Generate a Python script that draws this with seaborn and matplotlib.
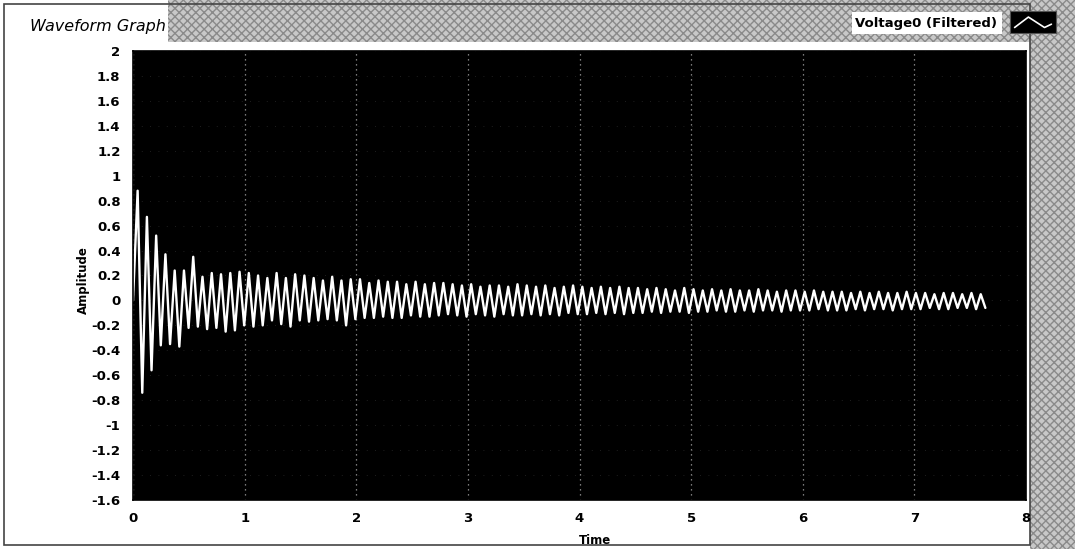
import numpy as np
import pandas as pd
import matplotlib
matplotlib.use("Agg")
import matplotlib.pyplot as plt
import matplotlib.patches as mpatches
import seaborn as sns

# ---- data (LabVIEW waveform: t0, dt, Y) ----
t0 = 0.0
dt = 0.0415  # time between successive extrema of the waveform (s)
start_value = [0.0]
peaks = [0.88, 0.67, 0.52, 0.37, 0.24, 0.24, 0.35, 0.19, 0.22, 0.21, 0.22, 0.23, 0.22, 0.20,
         0.18, 0.22, 0.18, 0.21, 0.20, 0.18, 0.16, 0.19, 0.16, 0.17, 0.17, 0.14, 0.16, 0.15,
         0.15, 0.13, 0.15, 0.13, 0.14, 0.14,
         0.13, 0.12, 0.13, 0.11, 0.12, 0.12, 0.11, 0.13, 0.12, 0.11, 0.12, 0.10, 0.11, 0.12,
         0.11, 0.10, 0.11, 0.10, 0.11, 0.10, 0.10,
         0.09, 0.10, 0.09, 0.08, 0.10, 0.09, 0.08, 0.09, 0.08, 0.09, 0.08, 0.08, 0.09, 0.08,
         0.07, 0.08, 0.08, 0.07, 0.08, 0.07, 0.07,
         0.07, 0.06, 0.07, 0.06, 0.07, 0.06, 0.06, 0.07, 0.06, 0.06, 0.05, 0.06, 0.06, 0.05,
         0.06, 0.05]
troughs = [-0.74, -0.56, -0.36, -0.35, -0.37, -0.22, -0.21, -0.23, -0.22, -0.25, -0.24, -0.20, -0.21,
           -0.20, -0.16, -0.19, -0.21, -0.16, -0.17, -0.16, -0.15, -0.16, -0.20, -0.15, -0.14,
           -0.14, -0.13, -0.14, -0.14, -0.12, -0.13, -0.13, -0.12, -0.11,
           -0.12, -0.13, -0.11, -0.12, -0.13, -0.11, -0.12, -0.12, -0.11, -0.12, -0.11, -0.12,
           -0.10, -0.11, -0.11, -0.10, -0.11, -0.10, -0.11, -0.10, -0.10,
           -0.09, -0.10, -0.09, -0.09, -0.10, -0.09, -0.09, -0.08, -0.09, -0.09, -0.08, -0.09,
           -0.08, -0.08, -0.09, -0.08, -0.08, -0.08, -0.07, -0.08, -0.08,
           -0.08, -0.07, -0.08, -0.07, -0.07, -0.08, -0.07, -0.07, -0.07, -0.06, -0.07, -0.07,
           -0.06, -0.06, -0.07, -0.06]
x_ticks = [0, 1, 2, 3, 4, 5, 6, 7, 8]
y_ticks = [2, 1.8, 1.6, 1.4, 1.2, 1, 0.8, 0.6, 0.4, 0.2, 0, -0.2, -0.4, -0.6, -0.8,
           -1, -1.2, -1.4, -1.6]
title_text = "Waveform Graph"
series_name = "Voltage0 (Filtered)"
x_label = "Time"
y_label = "Amplitude"

amplitude = start_value + [v for pair in zip(peaks, troughs) for v in pair]
time = [t0 + i * dt for i in range(len(amplitude))]
df = pd.DataFrame({"Time": time, "Amplitude": amplitude})

# ---- figure ----
sns.set_style("white")
plt.rcParams["font.family"] = ["DejaVu Sans"]
plt.rcParams["text.color"] = "black"
plt.rcParams["axes.labelcolor"] = "black"
plt.rcParams["xtick.color"] = "black"
plt.rcParams["ytick.color"] = "black"

W, H = 1075, 549
fig = plt.figure(figsize=(W / 100, H / 100), dpi=100, facecolor="white")

def fx(px):
    return px / W

def fy(py):
    return 1 - py / H

# decorative frame (gray dithered LabVIEW panel)
fig.patches.append(mpatches.Rectangle((fx(168), fy(42)), fx(1075 - 168), 42 / H,
                                      transform=fig.transFigure, facecolor="#c8c8c8",
                                      edgecolor="#8a8a8a", hatch="xxxx", lw=0, zorder=0))
fig.patches.append(mpatches.Rectangle((fx(1030), 0), fx(45), 1,
                                      transform=fig.transFigure, facecolor="#c8c8c8",
                                      edgecolor="#8a8a8a", hatch="xxxx", lw=0, zorder=0))
fig.patches.append(mpatches.Rectangle((fx(4), fy(545)), fx(1026), 541 / H,
                                      transform=fig.transFigure, facecolor="none",
                                      edgecolor="#444444", lw=1.2, zorder=1))

ax = fig.add_axes([fx(133), fy(500), fx(1026 - 133), (500 - 51) / H])
ax.set_facecolor("black")
ax.set_zorder(3)

sns.lineplot(data=df, x="Time", y="Amplitude", ax=ax, color="white", lw=1.7,
             estimator=None, sort=False, solid_joinstyle="round")

ax.set_xlim(0, 8)
ax.set_ylim(-1.6, 2)
ax.set_xticks(x_ticks)
ax.set_xticklabels([f"{v:g}" for v in x_ticks])
ax.set_yticks(y_ticks)
ax.set_yticklabels([f"{v:g}" for v in y_ticks])
ax.tick_params(axis="both", which="major", direction="out", length=7, width=1.6,
               color="black", labelcolor="black", labelsize=9.5, pad=2)
for lab in ax.get_xticklabels() + ax.get_yticklabels():
    lab.set_fontweight("bold")

ax.grid(True, axis="x", color="#cccccc", linestyle=(0, (1, 3)), lw=0.9, alpha=0.8)
ax.grid(True, axis="y", color="#777777", linestyle=(0, (1, 9)), lw=0.6, alpha=0.35)
for s in ax.spines.values():
    s.set_color("black")
    s.set_linewidth(1.2)

ax.set_xlabel(x_label, fontsize=8.5, fontweight="bold", labelpad=2, color="black")
ax.xaxis.set_label_coords((595 - 133) / (1026 - 133), -0.075)
ax.set_ylabel(y_label, fontsize=8.5, fontweight="bold", labelpad=4, color="black")
ax.yaxis.set_label_coords(-0.048, 0.49)

# title
fig.text(fx(30), fy(26), title_text, fontsize=11.5, style="italic", ha="left",
         va="center", color="black")

# legend (LabVIEW plot legend)
fig.patches.append(mpatches.Rectangle((fx(852), fy(34)), fx(150), 22 / H,
                                      transform=fig.transFigure, facecolor="white",
                                      edgecolor="none", zorder=2))
fig.text(fx(926), fy(23), series_name, fontsize=9.5, fontweight="bold", ha="center",
         va="center", color="black", zorder=3)
lax = fig.add_axes([fx(1010), fy(33), fx(46), 22 / H])
lax.set_zorder(6)
lax.set_facecolor("black")
lax.set_xlim(0, 4)
lax.set_ylim(0, 4)
lax.plot([0.4, 1.6, 3.0, 3.6], [1.0, 2.9, 1.0, 1.6], color="white", lw=1.2)
lax.set_xticks([])
lax.set_yticks([])
for s in lax.spines.values():
    s.set_color("#555555")

fig.savefig("out.png", dpi=100, facecolor=fig.get_facecolor())
